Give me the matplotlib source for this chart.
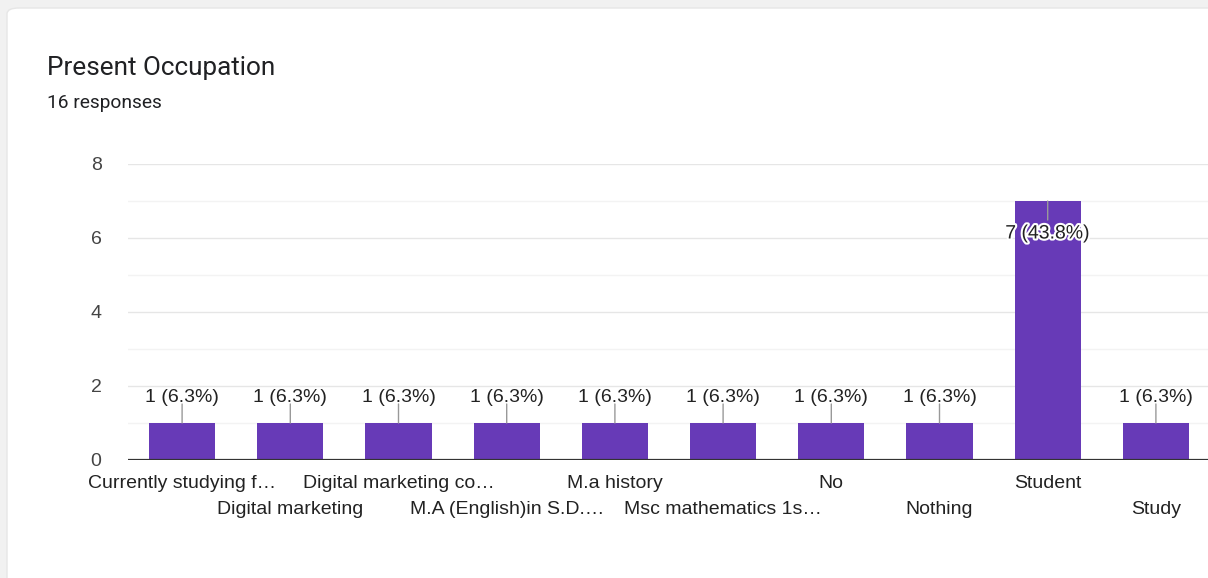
import matplotlib
matplotlib.use("Agg")
import matplotlib.pyplot as plt
import matplotlib.patheffects as pe
from matplotlib.patches import FancyBboxPatch
from matplotlib.transforms import blended_transform_factory

# data
categories = ["Currently studying f\u2026", "Digital marketing", "Digital marketing co\u2026",
              "M.A (English)in S.D.\u2026", "M.a history", "Msc mathematics 1s\u2026",
              "No", "Nothing", "Student", "Study"]
counts = [1, 1, 1, 1, 1, 1, 1, 1, 7, 1]
total = 16

W, H = 1208, 578
fig = plt.figure(figsize=(W / 100, H / 100), dpi=100)
fig.patch.set_facecolor("#f1f1f1")

# white card
card = FancyBboxPatch((7 / W, -0.1), 1.2, 1 - 8 / H + 0.1, boxstyle="round,pad=0,rounding_size=0.01",
                      transform=fig.transFigure, facecolor="white", edgecolor="#e6e6e6", lw=1, zorder=-5)
fig.patches.append(card)

fig.text(47 / W, 1 - 68 / H, "Present Occupation", family=["Roboto", "DejaVu Sans"],
         fontsize=18.8, color="#202124", va="center", ha="left")
fig.text(47 / W, 1 - 103 / H, f"{total} responses", family=["Roboto", "DejaVu Sans"],
         fontsize=13.8, color="#202124", va="center", ha="left")

ax = fig.add_axes([128 / W, (H - 460) / H, 1082 / W, (460 - 164) / H])
ax.set_facecolor("none")
ax.set_zorder(2)

x = list(range(len(categories)))
ax.bar(x, counts, width=0.61, color="#673ab7", zorder=3)
ax.set_xlim(-0.5, len(categories) - 0.5)
ax.set_ylim(0, 8)

for y in range(1, 9):
    ax.axhline(y, color="#e6e6e6" if y % 2 == 0 else "#f3f3f3", lw=1, zorder=1)
ax.axhline(0, color="#333333", lw=1.6, zorder=4)

for s in ax.spines.values():
    s.set_visible(False)
ax.set_xticks([])
ax.set_yticks([0, 2, 4, 6, 8])
ax.tick_params(axis="y", length=0, pad=19, labelsize=14, labelcolor="#444444")
for lab in ax.get_yticklabels():
    lab.set_family(["Liberation Sans", "DejaVu Sans"])

top = max(counts)
for i, v in enumerate(counts):
    pct = int(v * 1000 / total + 0.5) / 10  # round half up like Forms does
    label = f"{v} ({pct:.1f}%)"
    if v == top:
        ax.annotate("", xy=(i, v), xytext=(0, -19), textcoords="offset pixels",
                    arrowprops=dict(arrowstyle="-", color="#999999", lw=1, shrinkA=0, shrinkB=0), zorder=5)
        t = ax.annotate(label, xy=(i, v), xytext=(0, -33), textcoords="offset pixels",
                        ha="center", va="center", fontsize=14, color="#222222",
                        family=["Liberation Sans", "DejaVu Sans"], zorder=6)
        t.set_path_effects([pe.withStroke(linewidth=3, foreground="white")])
    else:
        ax.annotate("", xy=(i, v), xytext=(0, 19), textcoords="offset pixels",
                    arrowprops=dict(arrowstyle="-", color="#999999", lw=1, shrinkA=0, shrinkB=0), zorder=5)
        ax.annotate(label, xy=(i, v), xytext=(0, 26), textcoords="offset pixels",
                    ha="center", va="center", fontsize=14, color="#222222",
                    family=["Liberation Sans", "DejaVu Sans"], zorder=6)

# category labels staggered on two rows
trans = blended_transform_factory(ax.transData, ax.transAxes)
for i, c in enumerate(categories):
    off = -24 if i % 2 == 0 else -50
    ax.annotate(c, xy=(i, 0), xycoords=trans, xytext=(0, off), textcoords="offset pixels",
                ha="center", va="center", fontsize=14, color="#222222",
                family=["Liberation Sans", "DejaVu Sans"], annotation_clip=False)

fig.savefig("out.png", dpi=100)
